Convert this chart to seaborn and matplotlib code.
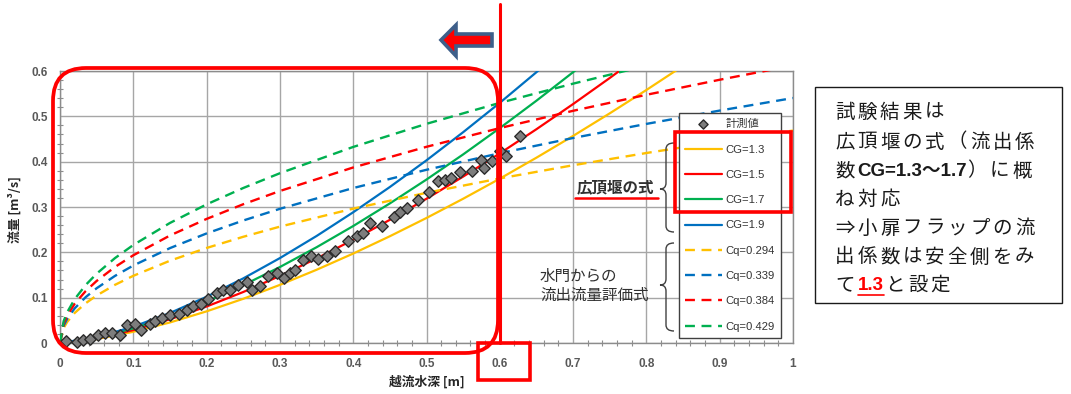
import matplotlib
matplotlib.use("Agg")
import matplotlib.pyplot as plt
import seaborn as sns
from matplotlib.patches import FancyBboxPatch, Rectangle, Polygon, PathPatch
from matplotlib.path import Path
from matplotlib.transforms import IdentityTransform
from matplotlib.lines import Line2D
from matplotlib.ticker import MultipleLocator

W, H = 1071, 394

# ---------------------------------------------------------------- data
CG_VALUES = ["1.3", "1.5", "1.7", "1.9"]
CQ_VALUES = ["0.294", "0.339", "0.384", "0.429"]

# broad-crested weir curves (overflow depth h [m] -> discharge [m3/s])
H_WEIR = [0.00, 0.05, 0.10, 0.15, 0.20, 0.25, 0.30, 0.35, 0.40, 0.45,
          0.50, 0.55, 0.60, 0.65, 0.70, 0.75, 0.80, 0.85]
Q_CG13 = [0, 0.0087, 0.0247, 0.0453, 0.0698, 0.0975, 0.1282, 0.1615, 0.1973,
          0.2355, 0.2758, 0.3182, 0.3625, 0.4088, 0.4568, 0.5066, 0.5581, 0.6113]
Q_CG15 = [0, 0.0101, 0.0285, 0.0523, 0.0805, 0.1125, 0.1479, 0.1864, 0.2277,
          0.2717, 0.3182, 0.3671, 0.4183, 0.4716, 0.5271, 0.5846, 0.6440]
Q_CG17 = [0, 0.0114, 0.0323, 0.0593, 0.0912, 0.1275, 0.1676, 0.2112, 0.2580,
          0.3079, 0.3606, 0.4160, 0.4741, 0.5345, 0.5974, 0.6625]
Q_CG19 = [0, 0.0127, 0.0360, 0.0662, 0.1020, 0.1425, 0.1873, 0.2360, 0.2884,
          0.3441, 0.4030, 0.4650, 0.5298, 0.5974, 0.6677]

# sluice-gate outflow evaluation curves
H_GATE = [0.0, 0.005, 0.01, 0.02, 0.035, 0.05, 0.075, 0.1, 0.15, 0.2, 0.25,
          0.3, 0.4, 0.5, 0.6, 0.7, 0.8, 0.9, 1.0]
Q_CQ0294 = [0, 0.0331, 0.0469, 0.0663, 0.0877, 0.1048, 0.1283, 0.1482, 0.1815,
            0.2096, 0.2343, 0.2567, 0.2964, 0.3313, 0.3630, 0.3921, 0.4191,
            0.4446, 0.4686]
Q_CQ0339 = [0, 0.0382, 0.0540, 0.0764, 0.1011, 0.1208, 0.1480, 0.1709, 0.2093,
            0.2417, 0.2702, 0.2960, 0.3418, 0.3821, 0.4186, 0.4522, 0.4833,
            0.5127, 0.5404]
Q_CQ0384 = [0, 0.0433, 0.0612, 0.0866, 0.1145, 0.1369, 0.1677, 0.1935, 0.2371,
            0.2737, 0.3061, 0.3353, 0.3872, 0.4328, 0.4741, 0.5122, 0.5475,
            0.5807, 0.6121]
Q_CQ0429 = [0, 0.0483, 0.0684, 0.0967, 0.1279, 0.1529, 0.1873, 0.2162, 0.2648,
            0.3058, 0.3419, 0.3745, 0.4325, 0.4835, 0.5297, 0.5721, 0.6116]

# measured values (計測値)
H_MEAS = [0.008, 0.023, 0.031, 0.041, 0.052, 0.061, 0.071, 0.082, 0.091, 0.102,
          0.111, 0.123, 0.130, 0.139, 0.150, 0.162, 0.173, 0.182, 0.193, 0.202,
          0.214, 0.223, 0.232, 0.243, 0.255, 0.262, 0.273, 0.284, 0.296, 0.305,
          0.314, 0.321, 0.332, 0.343, 0.352, 0.364, 0.375, 0.393, 0.405, 0.414,
          0.423, 0.439, 0.455, 0.464, 0.473, 0.489, 0.504, 0.516, 0.525, 0.534,
          0.546, 0.562, 0.575, 0.578, 0.589, 0.600, 0.609, 0.628]
Q_MEAS = [0.005, 0.003, 0.007, 0.008, 0.018, 0.021, 0.023, 0.018, 0.040, 0.041,
          0.029, 0.043, 0.048, 0.055, 0.061, 0.065, 0.073, 0.082, 0.087, 0.098,
          0.111, 0.117, 0.118, 0.128, 0.135, 0.117, 0.126, 0.148, 0.154, 0.143,
          0.154, 0.160, 0.183, 0.192, 0.185, 0.192, 0.203, 0.224, 0.237, 0.243,
          0.264, 0.257, 0.279, 0.290, 0.297, 0.316, 0.334, 0.358, 0.360, 0.364,
          0.378, 0.380, 0.404, 0.386, 0.402, 0.424, 0.413, 0.457]

X_TICKS = [0, 0.1, 0.2, 0.3, 0.4, 0.5, 0.6, 0.7, 0.8, 0.9, 1.0]
X_TICK_LABELS = ["0", "0.1", "0.2", "0.3", "0.4", "0.5", "0.6", "0.7", "0.8", "0.9", "1"]
Y_TICKS = [0, 0.1, 0.2, 0.3, 0.4, 0.5, 0.6]
Y_TICK_LABELS = ["0", "0.1", "0.2", "0.3", "0.4", "0.5", "0.6"]

# ---------------------------------------------------------------- style
sns.set_theme(style="white")
plt.rcParams["font.family"] = ["Noto Sans CJK JP", "DejaVu Sans"]

CG_COLORS = ["#FFC000", "#FF0000", "#00B050", "#0070C0"]
CQ_COLORS = ["#FFC000", "#0070C0", "#FF0000", "#00B050"]
TICK_FONT = dict(family=["Liberation Sans", "DejaVu Sans"], weight="bold",
                 size=8.5, color="#595959")

fig = plt.figure(figsize=(W / 100, H / 100), dpi=100)
fig.patch.set_facecolor("white")
ax = fig.add_axes([60 / W, 1 - 343 / H, (793 - 60) / W, (343 - 71) / H])

# weir formula curves (solid)
for q, cg, c in zip([Q_CG13, Q_CG15, Q_CG17, Q_CG19], CG_VALUES, CG_COLORS):
    sns.lineplot(x=H_WEIR[:len(q)], y=q, color=c, linewidth=1.6, ax=ax,
                 label=f"CG={cg}", errorbar=None, sort=False, zorder=3)

# gate outflow curves (dashed)
for q, cq, c in zip([Q_CQ0294, Q_CQ0339, Q_CQ0384, Q_CQ0429], CQ_VALUES, CQ_COLORS):
    sns.lineplot(x=H_GATE[:len(q)], y=q, color=c, linewidth=1.7, ax=ax,
                 linestyle=(0, (4.2, 2.8)), label=f"Cq={cq}",
                 errorbar=None, sort=False, zorder=3)

# measurements
sns.scatterplot(x=H_MEAS, y=Q_MEAS, marker="D", s=34, color="#7d7d7d",
                edgecolor="#2b2b2b", linewidth=1.0, ax=ax, label="計測値",
                zorder=5, clip_on=False)

ax.set_xlim(0, 1)
ax.set_ylim(0, 0.6)
ax.set_xticks(X_TICKS)
ax.set_xticklabels(X_TICK_LABELS, fontdict=TICK_FONT)
ax.set_yticks(Y_TICKS)
ax.set_yticklabels(Y_TICK_LABELS, fontdict=TICK_FONT)
ax.xaxis.set_minor_locator(MultipleLocator(0.02))
ax.yaxis.set_minor_locator(MultipleLocator(0.02))
ax.tick_params(axis="both", which="major", length=0)
ax.tick_params(axis="x", which="major", pad=11)
ax.tick_params(axis="y", which="major", pad=9)
ax.tick_params(axis="both", which="minor", length=4, width=0.8,
               direction="inout", color="#8c8c8c", bottom=True, left=True)
ax.grid(True, which="major", color="#a6a6a6", linewidth=1.0)
ax.set_axisbelow(True)
for sp in ax.spines.values():
    sp.set_color("#8c8c8c")
    sp.set_linewidth(1.0)

ax.set_xlabel("越流水深 [m]", fontsize=9.2, weight="bold", color="#262626")
ax.xaxis.set_label_coords((427 - 60) / 733, (343 - 375) / 272)
ax.set_ylabel("流量 [m³/s]", fontsize=9.2, weight="bold", color="#262626")
ax.yaxis.set_label_coords((22 - 60) / 733, (343 - 210) / 272)

# legend: measurements first, then the curves
handles, labels = ax.get_legend_handles_labels()
order = [labels.index("計測値")] + [i for i, l in enumerate(labels) if l != "計測値"]
leg = ax.legend([handles[i] for i in order], [labels[i] for i in order],
                loc="upper left", bbox_to_anchor=(679 / W, 1 - 113 / H),
                bbox_transform=fig.transFigure, borderaxespad=0,
                prop=dict(family=["Liberation Sans", "Noto Sans CJK JP"], size=8.1),
                frameon=True, fancybox=False, framealpha=1, edgecolor="#404040",
                handlelength=3.25, handletextpad=0.3, labelspacing=1.36,
                borderpad=0.55, markerscale=0.8)
leg.get_frame().set_linewidth(1.0)
for t in leg.get_texts():
    t.set_color("#333333")

# ---------------------------------------------------------------- overlays (pixel space)
PX = IdentityTransform()


def yy(y):
    return H - y


fig.add_artist(FancyBboxPatch((53, yy(353)), 498 - 53, 353 - 68,
                              boxstyle="round,pad=0,rounding_size=33",
                              transform=PX, fill=False, ec="#FF0000", lw=2.7,
                              zorder=10))
fig.add_artist(Line2D([500, 500], [yy(4), yy(343)], transform=PX,
                      color="#FF0000", lw=2.2, zorder=10))
fig.add_artist(Rectangle((478, yy(380)), 52, 37, transform=PX, fill=False,
                         ec="#FF0000", lw=2.6, zorder=10))
fig.add_artist(Rectangle((675, yy(212)), 116, 80, transform=PX, fill=False,
                         ec="#FF0000", lw=2.6, zorder=10))

# leftward arrow
fig.add_artist(Polygon([(441, yy(40)), (456, yy(25)), (456, yy(34)),
                        (492, yy(34)), (492, yy(46)), (456, yy(46)),
                        (456, yy(56))], closed=True, transform=PX,
                       fc="#FF0000", ec="#3E5F8A", lw=2.6, zorder=10))


def brace(x0, ytop, ytip, ybot, tip=6, hook=8, r=6):
    xt, xe = x0 - tip, x0 + hook
    verts = [(xe, yy(ytop)), (x0, yy(ytop)), (x0, yy(ytop + r)),
             (x0, yy(ytip - r)), (x0, yy(ytip)), (xt, yy(ytip)),
             (x0, yy(ytip)), (x0, yy(ytip + r)),
             (x0, yy(ybot - r)), (x0, yy(ybot)), (xe, yy(ybot))]
    codes = [Path.MOVETO, Path.CURVE3, Path.CURVE3, Path.LINETO, Path.CURVE3,
             Path.CURVE3, Path.CURVE3, Path.CURVE3, Path.LINETO, Path.CURVE3,
             Path.CURVE3]
    fig.add_artist(PathPatch(Path(verts, codes), transform=PX, fill=False,
                             ec="#404040", lw=1.0, zorder=9))


brace(666, 143, 189, 232)
brace(666, 243, 285, 331)

renderer = fig.canvas.get_renderer()


def put(x, y, s, track=0.0, **kw):
    """Write s from pixel x, centred on pixel row y; returns the end x."""
    pieces = list(s) if track else [s]
    for p in pieces:
        t = fig.text(x, yy(y), p, transform=PX, va="center", ha="left",
                     zorder=11, **kw)
        x += t.get_window_extent(renderer).width + track
    return x


# annotations beside the legend
put(577, 187, "広頂堰の式", family=["Noto Sans CJK JP"], fontsize=11.2,
    weight="bold", color="#303030")
fig.add_artist(Line2D([575, 658], [yy(198), yy(198)], transform=PX,
                      color="#FF0000", lw=1.8, zorder=11))
put(540, 276, "水門からの", family=["Noto Sans CJK JP"], fontsize=11.2,
    color="#303030")
put(540, 295, "流出流量評価式", family=["Noto Sans CJK JP"], fontsize=11.2,
    color="#303030")

# explanatory text box
fig.add_artist(Rectangle((815, yy(303)), 247, 216, transform=PX, fill=False,
                         ec="#1a1a1a", lw=1.0, zorder=10))
JP = dict(family=["Noto Sans CJK JP", "DejaVu Sans"], fontsize=14, color="#1a1a1a")
LAT = dict(family=["Liberation Sans", "Noto Sans CJK JP"], fontsize=13.5,
           weight="bold", color="#1a1a1a")
TR = 3.0
X0 = 835
put(X0, 112, "試験結果は", TR, **JP)
put(X0, 142, "広頂堰の式（流出係", TR, **JP)
x = put(X0, 171, "数", TR, **JP)
x = put(x, 171, "CG=1.3～1.7", **LAT)
put(x, 171, "）に概", TR, **JP)
put(X0, 199, "ね対応", TR, **JP)
put(X0, 228, "⇒小扉フラップの流", TR, **JP)
put(X0, 257, "出係数は安全側をみ", TR, **JP)
x = put(X0, 285, "て", TR, **JP)
x1 = put(x, 285, "1.3", **dict(LAT, color="#FF0000"))
fig.add_artist(Line2D([x, x1], [yy(295), yy(295)], transform=PX,
                      color="#FF0000", lw=1.2, zorder=11))
put(x1 + 2, 285, "と設定", TR, **JP)

fig.savefig("out.png", dpi=100, facecolor="white")
